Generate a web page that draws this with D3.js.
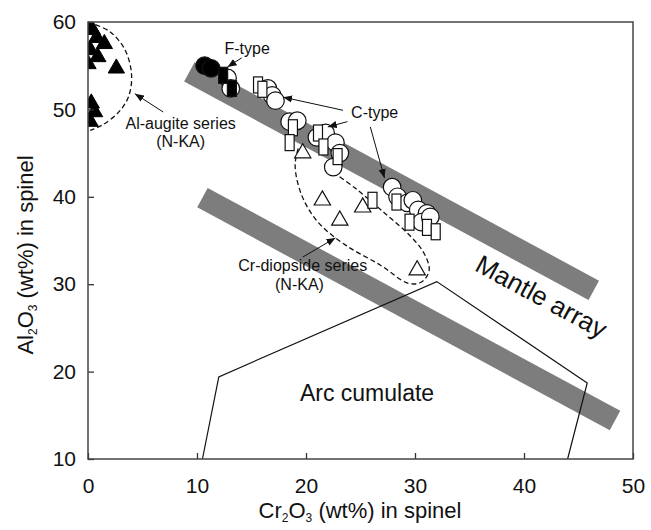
<!DOCTYPE html>
<html>
<head>
<meta charset="utf-8">
<script src="https://cdn.jsdelivr.net/npm/d3@7"></script>
<style>
  body { margin: 0; background: #fff; }
  text { font-family: "Liberation Sans", Arial, sans-serif; fill: #111; }
</style>
</head>
<body>
<script>
// spinel Cr2O3 vs Al2O3 plot

// tick labels
var xTicks = [0, 10, 20, 30, 40, 50];
var yTicks = [10, 20, 30, 40, 50, 60];

// Al-augite series (N-KA), black triangles
var alAugite = [[0.0, 59.6], [0.4, 59.1], [0.8, 58.2], [1.5, 57.5], [0.2, 56.8], [0.9, 56.0], [2.6, 54.7],
  [0.0, 55.2], [0.3, 50.7], [0.6, 49.7], [0.2, 48.6]];
// Cr-diopside series (N-KA), open triangles
var crDiopside = [[19.7, 45.0], [21.5, 39.6], [23.1, 37.3], [25.2, 38.8], [30.2, 31.6]];
// F-type, black circles / squares (white ones sit underneath)
var fTypeBack = [[12.8, 53.6], [13.1, 52.4]];
var fTypeCircles = [[10.7, 55.0], [11.3, 54.7]];
var fTypeSquares = [[12.4, 53.9], [13.2, 52.4]];
// C-type, open circles / squares
var cTypeCircles = [[16.5, 52.4], [16.9, 51.6], [17.2, 51.0],
  [18.5, 48.6], [19.2, 48.7], [21.0, 46.8], [21.8, 47.3], [22.7, 46.2], [23.1, 45.0], [22.5, 43.4],
  [27.9, 41.1], [28.4, 40.0], [29.3, 39.3], [29.8, 39.6], [30.3, 38.5], [31.1, 38.1], [30.6, 37.1], [31.4, 37.7]];
var cTypeSquares = [[15.6, 52.8], [16.0, 52.3],
  [18.8, 47.9], [18.5, 46.2], [21.1, 47.3], [21.6, 45.7], [22.9, 44.6],
  [26.1, 39.6], [28.3, 39.4], [29.5, 37.1], [31.1, 36.5], [31.9, 36.0]];

// fields
var mantleUpper = [[9.3, 54.3], [46.4, 29.3]];
var mantleLower = [[10.5, 39.9], [48.35, 14.4]];
var arcCumulate = [[10.5, 10], [12.0, 19.4], [32.0, 30.3], [45.8, 18.7], [44.0, 10]];
var alAugiteField = [[0, 60], [2.0, 58.9], [3.4, 56.8], [4.0, 53.9], [3.7, 51.4], [2.75, 49.6], [1.3, 48.2], [0.2, 47.6]];
var crDiopsideField = [[22.5, 42.8], [24.5, 41.0], [27.25, 38.1], [29.5, 35.6], [30.8, 33.6], [31.3, 31.6],
  [30.6, 30.25], [29.4, 30.1], [26.8, 32.2], [23.6, 34.5], [21.1, 37.1], [19.6, 40.2], [19.0, 43.6], [19.3, 45.6]];

// labels and arrows (data units)
var labels = [
  {t: "F-type", x: 14.6, y: 57.0, s: 16},
  {t: "C-type", x: 26.3, y: 49.6, s: 16},
  {t: "Al-augite series", x: 8.5, y: 48.4, s: 16},
  {t: "(N-KA)", x: 8.5, y: 46.3, s: 16},
  {t: "Cr-diopside series", x: 19.7, y: 32.1, s: 16},
  {t: "(N-KA)", x: 19.4, y: 30.0, s: 16},
  {t: "Arc cumulate", x: 25.6, y: 17.6, s: 23}
];
var arrows = [
  [[14.1, 55.9], [12.8, 54.85]],
  [[23.4, 49.9], [17.9, 51.4]],
  [[23.8, 48.6], [22.0, 48.0]],
  [[25.9, 48.0], [27.2, 42.15]],
  [[6.9, 49.7], [4.3, 51.8]],
  [[19.7, 33.1], [22.7, 35.3]]
];

var W = 651, H = 530;
var L = 88, R = 633, T = 22, B = 459;

var svg = d3.select('body').append('svg').attr('width', W).attr('height', H);

var x = d3.scaleLinear().domain([0, 50]).range([L, R]);
var y = d3.scaleLinear().domain([10, 60]).range([B, T]);

svg.append('defs').append('clipPath').attr('id', 'plot')
  .append('rect').attr('x', L).attr('y', T).attr('width', R - L).attr('height', B - T);
var marker = svg.select('defs').append('marker').attr('id', 'arr')
  .attr('viewBox', '0 0 10 10').attr('refX', 10).attr('refY', 5)
  .attr('markerWidth', 9).attr('markerHeight', 9).attr('markerUnits', 'userSpaceOnUse')
  .attr('orient', 'auto');
marker.append('path').attr('d', 'M0,1 L10,5 L0,9 Z').attr('fill', '#111');

var line = d3.line().x(function(d) { return x(d[0]); }).y(function(d) { return y(d[1]); });

// gray mantle array bands
[mantleUpper, mantleLower].forEach(function(b) {
  svg.append('path').attr('d', line(b)).attr('stroke', '#7d7d7d').attr('stroke-width', 22)
    .attr('fill', 'none').attr('stroke-linecap', 'butt');
});

// arc cumulate field
svg.append('path').attr('d', line(arcCumulate)).attr('fill', 'none').attr('stroke', '#111').attr('stroke-width', 1.2);

// dashed envelopes
var curve = d3.line().x(function(d) { return x(d[0]); }).y(function(d) { return y(d[1]); }).curve(d3.curveCatmullRom);
svg.append('path').attr('d', curve(alAugiteField)).attr('fill', 'none').attr('stroke', '#111')
  .attr('stroke-width', 1.3).attr('stroke-dasharray', '5,3');
svg.append('path').attr('d', curve(crDiopsideField)).attr('fill', 'none').attr('stroke', '#111')
  .attr('stroke-width', 1.3).attr('stroke-dasharray', '5,3');

// points
var pts = svg.append('g').attr('clip-path', 'url(#plot)');
var tri = d3.symbol().type(d3.symbolTriangle).size(115);

pts.selectAll('.alaug').data(alAugite).enter().append('path').attr('class', 'alaug')
  .attr('d', tri).attr('transform', function(d) { return 'translate(' + x(d[0]) + ',' + y(d[1]) + ')'; })
  .attr('fill', '#000').attr('stroke', '#000');

pts.selectAll('.crdi').data(crDiopside).enter().append('path').attr('class', 'crdi')
  .attr('d', tri).attr('transform', function(d) { return 'translate(' + x(d[0]) + ',' + y(d[1]) + ')'; })
  .attr('fill', '#fff').attr('stroke', '#111').attr('stroke-width', 1.2);

function circles(data, fill) {
  pts.selectAll(null).data(data).enter().append('circle')
    .attr('cx', function(d) { return x(d[0]); }).attr('cy', function(d) { return y(d[1]); })
    .attr('r', 8.8).attr('fill', fill).attr('stroke', '#111').attr('stroke-width', 1.2);
}
function squares(data, fill) {
  pts.selectAll(null).data(data).enter().append('rect')
    .attr('x', function(d) { return x(d[0]) - 4.5; }).attr('y', function(d) { return y(d[1]) - 8; })
    .attr('width', 9).attr('height', 16).attr('fill', fill).attr('stroke', '#111').attr('stroke-width', 1.2);
}
circles(cTypeCircles, '#fff');
squares(cTypeSquares, '#fff');
circles(fTypeBack, '#fff');
circles(fTypeCircles, '#000');
squares(fTypeSquares, '#000');

// arrows
arrows.forEach(function(a) {
  svg.append('path').attr('d', line(a)).attr('stroke', '#111').attr('stroke-width', 1)
    .attr('fill', 'none').attr('marker-end', 'url(#arr)');
});

// labels
svg.selectAll('.lab').data(labels).enter().append('text').attr('class', 'lab')
  .attr('x', function(d) { return x(d.x); }).attr('y', function(d) { return y(d.y); })
  .attr('dy', '0.35em').attr('text-anchor', 'middle')
  .style('font-size', function(d) { return d.s + 'px'; })
  .text(function(d) { return d.t; });

svg.append('text').attr('text-anchor', 'middle').attr('dy', '0.35em')
  .attr('transform', 'translate(' + x(41.6) + ',' + y(28.6) + ') rotate(28.4)')
  .style('font-size', '26px').text('Mantle array');

// axes
var xAxis = d3.axisBottom(x).tickValues(xTicks).tickSizeInner(-6).tickSizeOuter(0).tickPadding(19);
var yAxis = d3.axisLeft(y).tickValues(yTicks).tickSizeInner(-6).tickSizeOuter(0).tickPadding(12);
var gx = svg.append('g').attr('transform', 'translate(0,' + B + ')').call(xAxis);
var gy = svg.append('g').attr('transform', 'translate(' + L + ',0)').call(yAxis);
[gx, gy].forEach(function(g) {
  g.select('.domain').remove();
  g.selectAll('line').attr('stroke', '#333').attr('stroke-width', 1.3);
  g.selectAll('text').style('font-size', '21px').attr('fill', '#111')
    .style('font-family', '"Liberation Sans", Arial, sans-serif');
});

// frame
svg.append('rect').attr('x', L).attr('y', T).attr('width', R - L).attr('height', B - T)
  .attr('fill', 'none').attr('stroke', '#444').attr('stroke-width', 1.5);

// axis titles
var xt = svg.append('text').attr('x', 360).attr('y', 518).attr('text-anchor', 'middle').style('font-size', '22px');
xt.append('tspan').text('Cr');
xt.append('tspan').text('2').attr('baseline-shift', '-4').style('font-size', '12px');
xt.append('tspan').text('O');
xt.append('tspan').text('3').attr('baseline-shift', '-4').style('font-size', '12px');
xt.append('tspan').text(' (wt%) in spinel');

var yt = svg.append('text').attr('transform', 'translate(33,255) rotate(-90)').attr('text-anchor', 'middle').style('font-size', '22px');
yt.append('tspan').text('Al');
yt.append('tspan').text('2').attr('baseline-shift', '-4').style('font-size', '12px');
yt.append('tspan').text('O');
yt.append('tspan').text('3').attr('baseline-shift', '-4').style('font-size', '12px');
yt.append('tspan').text(' (wt%) in spinel');
</script>
</body>
</html>
